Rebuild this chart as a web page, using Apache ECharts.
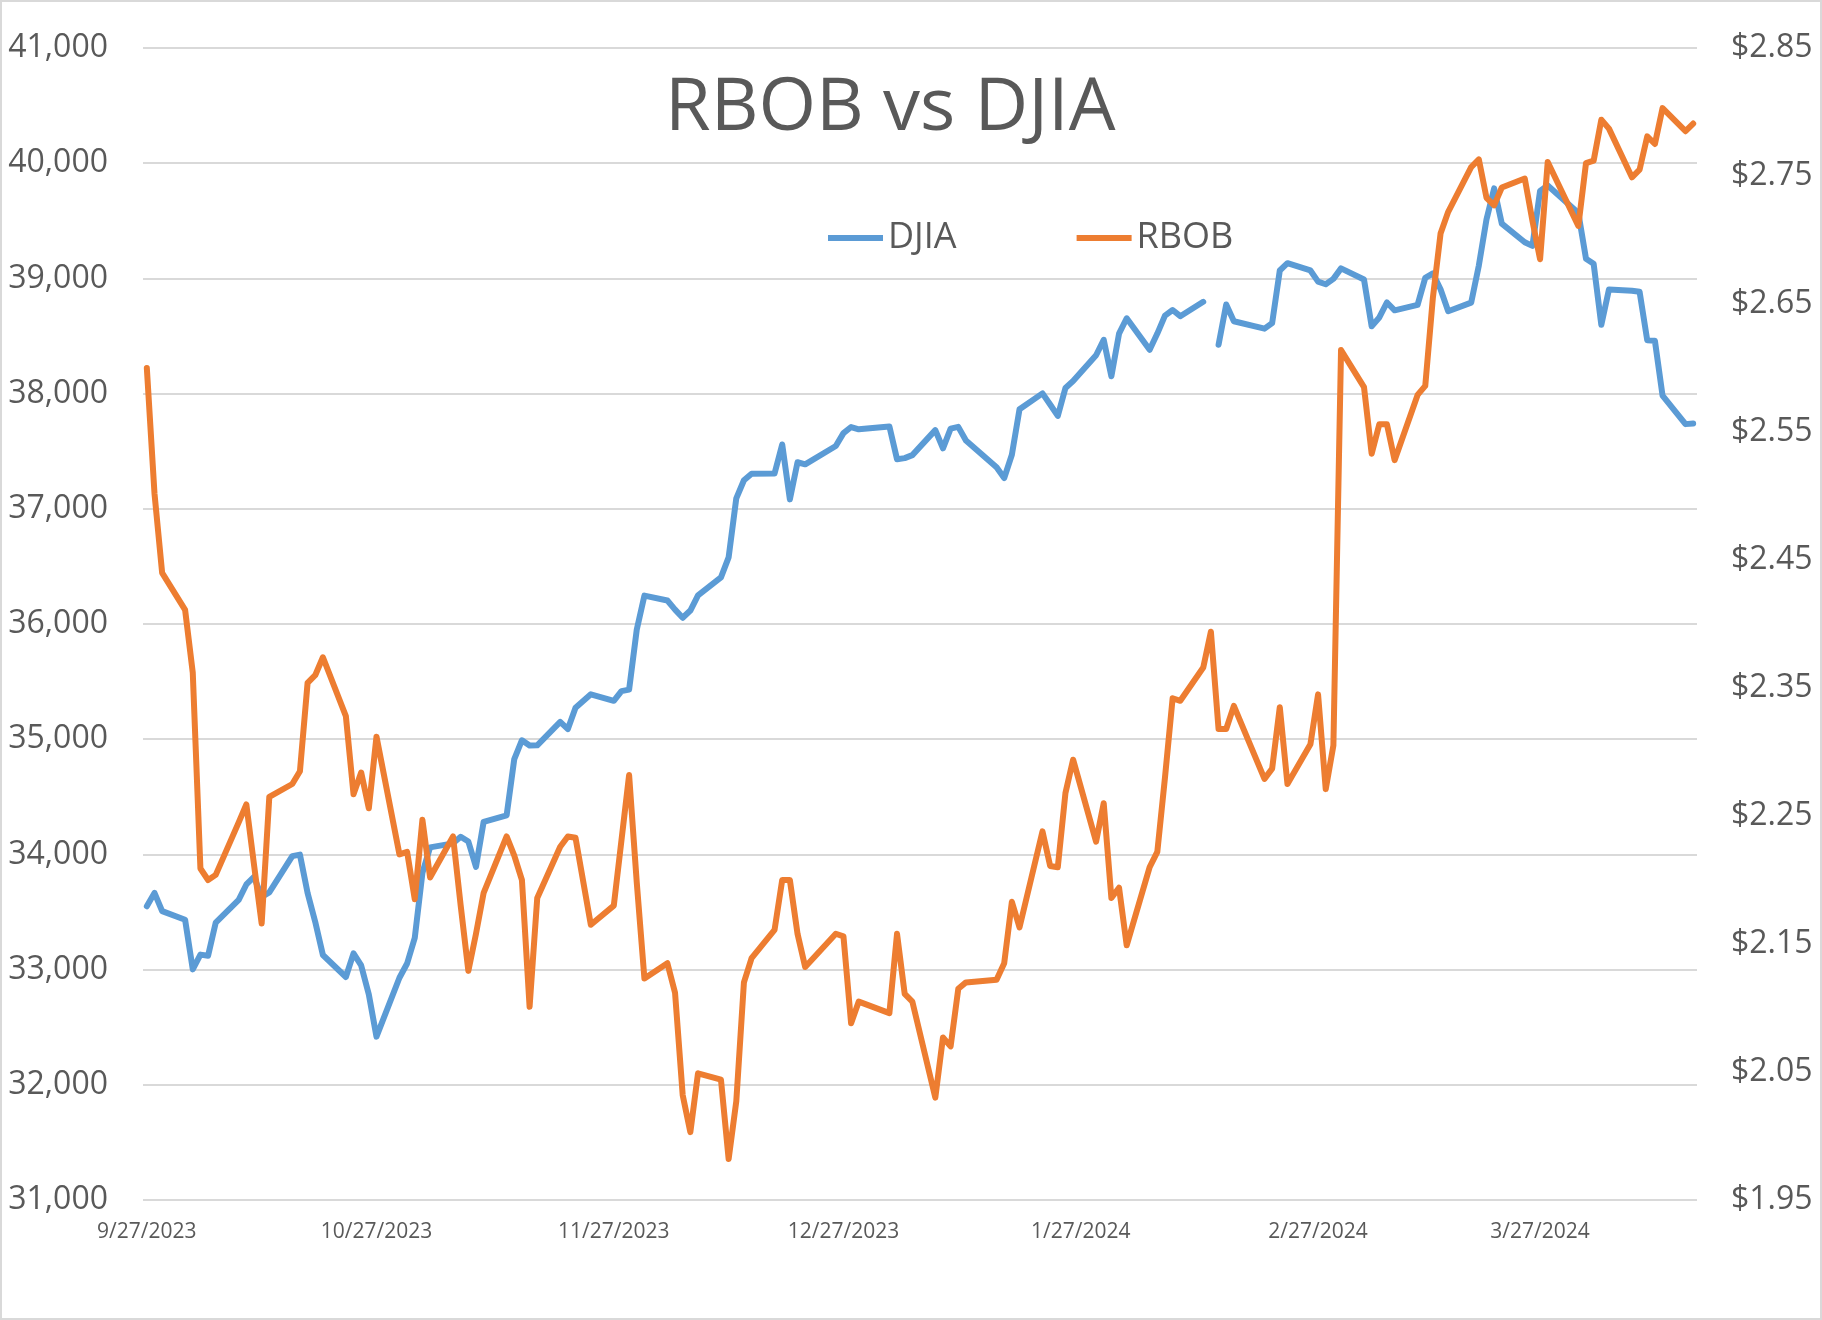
<!DOCTYPE html>
<html>
<head>
<meta charset="utf-8">
<script src="https://cdn.jsdelivr.net/npm/echarts@6/dist/echarts.min.js"></script>
<style>
html,body{margin:0;padding:0;background:#fff;}
#c{position:absolute;left:0;top:0;width:1822px;height:1320px;}
#b{position:absolute;left:0;top:0;width:1822px;height:1320px;box-sizing:border-box;border:2px solid #D9D9D9;pointer-events:none;}
</style>
</head>
<body>
<div id="c"></div><div id="b"></div>
<script>
// ---- data ----
const dates = [
'2023-09-27','2023-09-28','2023-09-29',
'2023-10-02','2023-10-03','2023-10-04','2023-10-05','2023-10-06','2023-10-09','2023-10-10','2023-10-11','2023-10-12','2023-10-13','2023-10-16','2023-10-17','2023-10-18','2023-10-19','2023-10-20','2023-10-23','2023-10-24','2023-10-25','2023-10-26','2023-10-27','2023-10-30','2023-10-31',
'2023-11-01','2023-11-02','2023-11-03','2023-11-06','2023-11-07','2023-11-08','2023-11-09','2023-11-10','2023-11-13','2023-11-14','2023-11-15','2023-11-16','2023-11-17','2023-11-20','2023-11-21','2023-11-22','2023-11-24','2023-11-27','2023-11-28','2023-11-29','2023-11-30',
'2023-12-01','2023-12-04','2023-12-05','2023-12-06','2023-12-07','2023-12-08','2023-12-11','2023-12-12','2023-12-13','2023-12-14','2023-12-15','2023-12-18','2023-12-19','2023-12-20','2023-12-21','2023-12-22','2023-12-26','2023-12-27','2023-12-28','2023-12-29',
'2024-01-02','2024-01-03','2024-01-04','2024-01-05','2024-01-08','2024-01-09','2024-01-10','2024-01-11','2024-01-12','2024-01-16','2024-01-17','2024-01-18','2024-01-19','2024-01-22','2024-01-23','2024-01-24','2024-01-25','2024-01-26','2024-01-29','2024-01-30','2024-01-31',
'2024-02-01','2024-02-02','2024-02-05','2024-02-06','2024-02-07','2024-02-08','2024-02-09','2024-02-12','2024-02-13','2024-02-14','2024-02-15','2024-02-16','2024-02-20','2024-02-21','2024-02-22','2024-02-23','2024-02-26','2024-02-27','2024-02-28','2024-02-29',
'2024-03-01','2024-03-04','2024-03-05','2024-03-06','2024-03-07','2024-03-08','2024-03-11','2024-03-12','2024-03-13','2024-03-14','2024-03-15','2024-03-18','2024-03-19','2024-03-20','2024-03-21','2024-03-22','2024-03-25','2024-03-26','2024-03-27','2024-03-28',
'2024-04-01','2024-04-02','2024-04-03','2024-04-04','2024-04-05','2024-04-08','2024-04-09','2024-04-10','2024-04-11','2024-04-12','2024-04-15','2024-04-16'
];

const djia = [
33550,33666,33508,
33433,33002,33130,33120,33408,33605,33739,33805,33631,33670,33985,33998,33665,33414,33127,32936,33141,33036,32784,32418,32929,33053,
33275,33839,34061,34096,34153,34112,33892,34283,34338,34828,34991,34945,34947,35151,35088,35273,35390,35333,35417,35430,35951,
36246,36204,36125,36054,36117,36248,36405,36578,37090,37248,37305,37306,37558,37082,37404,37386,37545,37657,37710,37690,
37715,37430,37440,37466,37683,37525,37696,37711,37593,37361,37267,37469,37864,38002,37905,37806,38049,38109,38333,38467,38150,
38520,38654,38380,38521,38677,38726,38672,38797,null,38424,38773,38628,38564,38612,39069,39132,39069,38972,38949,38996,
39087,38990,38585,38661,38791,38723,38770,39005,39043,38906,38715,38790,39111,39512,39781,39476,39314,39282,39760,39807,
39567,39170,39127,38597,38904,38893,38884,38462,38459,37983,37735,37740
];

const rbob = [
2.600,2.502,2.440,
2.411,2.362,2.209,2.200,2.204,2.245,2.259,2.212,2.166,2.265,2.275,2.285,2.354,2.360,2.374,2.328,2.267,2.284,2.256,2.312,2.220,2.222,
2.185,2.247,2.202,2.234,2.180,2.129,2.158,2.190,2.234,2.219,2.200,2.101,2.186,2.226,2.234,2.233,2.165,2.180,2.231,2.282,2.198,
2.123,2.135,2.112,2.032,2.003,2.049,2.044,1.982,2.027,2.120,2.139,2.161,2.200,2.200,2.158,2.132,2.158,2.156,2.088,2.105,
2.096,2.158,2.111,2.105,2.030,2.077,2.070,2.115,2.120,2.122,2.135,2.183,2.163,2.238,2.211,2.210,2.268,2.294,2.230,2.260,2.186,
2.194,2.149,2.210,2.222,2.280,2.342,2.340,2.366,2.394,2.318,2.318,2.336,2.279,2.287,2.335,2.275,2.306,2.345,2.271,2.305,
2.614,2.585,2.533,2.556,2.556,2.528,2.579,2.586,2.655,2.705,2.722,2.757,2.763,2.733,2.727,2.741,2.748,2.715,2.685,2.761,
2.711,2.760,2.762,2.794,2.787,2.749,2.755,2.781,2.775,2.803,2.785,2.791
];

const xTickDates = ['2023-09-27','2023-10-27','2023-11-27','2023-12-27','2024-01-27','2024-02-27','2024-03-27'];
const xTickLabels = ['9/27/2023','10/27/2023','11/27/2023','12/27/2023','1/27/2024','2/27/2024','3/27/2024'];
const djiaTicks = [31000,32000,33000,34000,35000,36000,37000,38000,39000,40000,41000];
const rbobTicks = [1.95,2.05,2.15,2.25,2.35,2.45,2.55,2.65,2.75,2.85];

// ---- helpers ----
function utc(s){const p=s.split('-').map(Number);return Date.UTC(p[0],p[1]-1,p[2]);}
const base = utc(dates[0]);
function dayIndex(s){return Math.round((utc(s)-base)/86400000);}
const xDays = dates.map(dayIndex);
const xTickDays = xTickDates.map(dayIndex);
const lastDay = xDays[xDays.length-1];

const djiaData = dates.map((d,i)=>[xDays[i], djia[i]]);
const rbobData = dates.map((d,i)=>[xDays[i], rbob[i]]);

const FONT = '"Open Sans", "Noto Sans", sans-serif';
const TXT = '#595959';

const chart = echarts.init(document.getElementById('c'), null, {renderer:'canvas', width:1822, height:1320});
chart.setOption({
  animation:false,
  backgroundColor:'#ffffff',
  textStyle:{fontFamily:FONT},
  title:{
    text:'RBOB vs DJIA', left:665, top:72, padding:0,
    textStyle:{fontSize:74, fontWeight:'normal', color:TXT, fontFamily:FONT}
  },
  legend:{
    data:['DJIA','RBOB'], left:828, top:220, padding:0,
    itemWidth:55, itemHeight:6, itemGap:120, icon:'rect',
    textStyle:{fontSize:36, color:TXT, fontFamily:FONT}
  },
  grid:{left:143, right:125, top:48, bottom:120, containLabel:false, outerBoundsMode:'none'},
  xAxis:{
    type:'value', min:-0.5, max:lastDay+0.5,
    axisLine:{show:false}, axisTick:{show:false}, splitLine:{show:false},
    axisLabel:{
      customValues:xTickDays, fontSize:21, color:TXT, margin:22, fontFamily:FONT,
      formatter:function(v){const i=xTickDays.indexOf(Math.round(v));return i>=0?xTickLabels[i]:'';}
    }
  },
  yAxis:[
    {
      type:'value', position:'left', min:djiaTicks[0], max:djiaTicks[djiaTicks.length-1], interval:1000,
      axisLine:{show:false}, axisTick:{show:false},
      splitLine:{show:true, lineStyle:{color:'#D9D9D9', width:2}},
      axisLabel:{fontSize:32, color:TXT, margin:35, fontFamily:FONT,
        formatter:function(v){return Number(v).toLocaleString('en-US');}}
    },
    {
      type:'value', position:'right', min:rbobTicks[0], max:rbobTicks[rbobTicks.length-1],
      axisLine:{show:false}, axisTick:{show:false}, splitLine:{show:false},
      axisLabel:{customValues:rbobTicks, fontSize:32, color:TXT, margin:34, fontFamily:FONT,
        formatter:function(v){return '$'+Number(v).toFixed(2);}}
    }
  ],
  series:[
    {
      name:'DJIA', type:'line', yAxisIndex:0, data:djiaData,
      symbol:'none', showSymbol:false, connectNulls:false, smooth:false,
      itemStyle:{color:'#5B9BD5'},
      lineStyle:{color:'#5B9BD5', width:6, cap:'round', join:'round'}
    },
    {
      name:'RBOB', type:'line', yAxisIndex:1, data:rbobData,
      symbol:'none', showSymbol:false, connectNulls:false, smooth:false,
      itemStyle:{color:'#ED7D31'},
      lineStyle:{color:'#ED7D31', width:6, cap:'round', join:'round'}
    }
  ]
});
</script>
</body>
</html>
